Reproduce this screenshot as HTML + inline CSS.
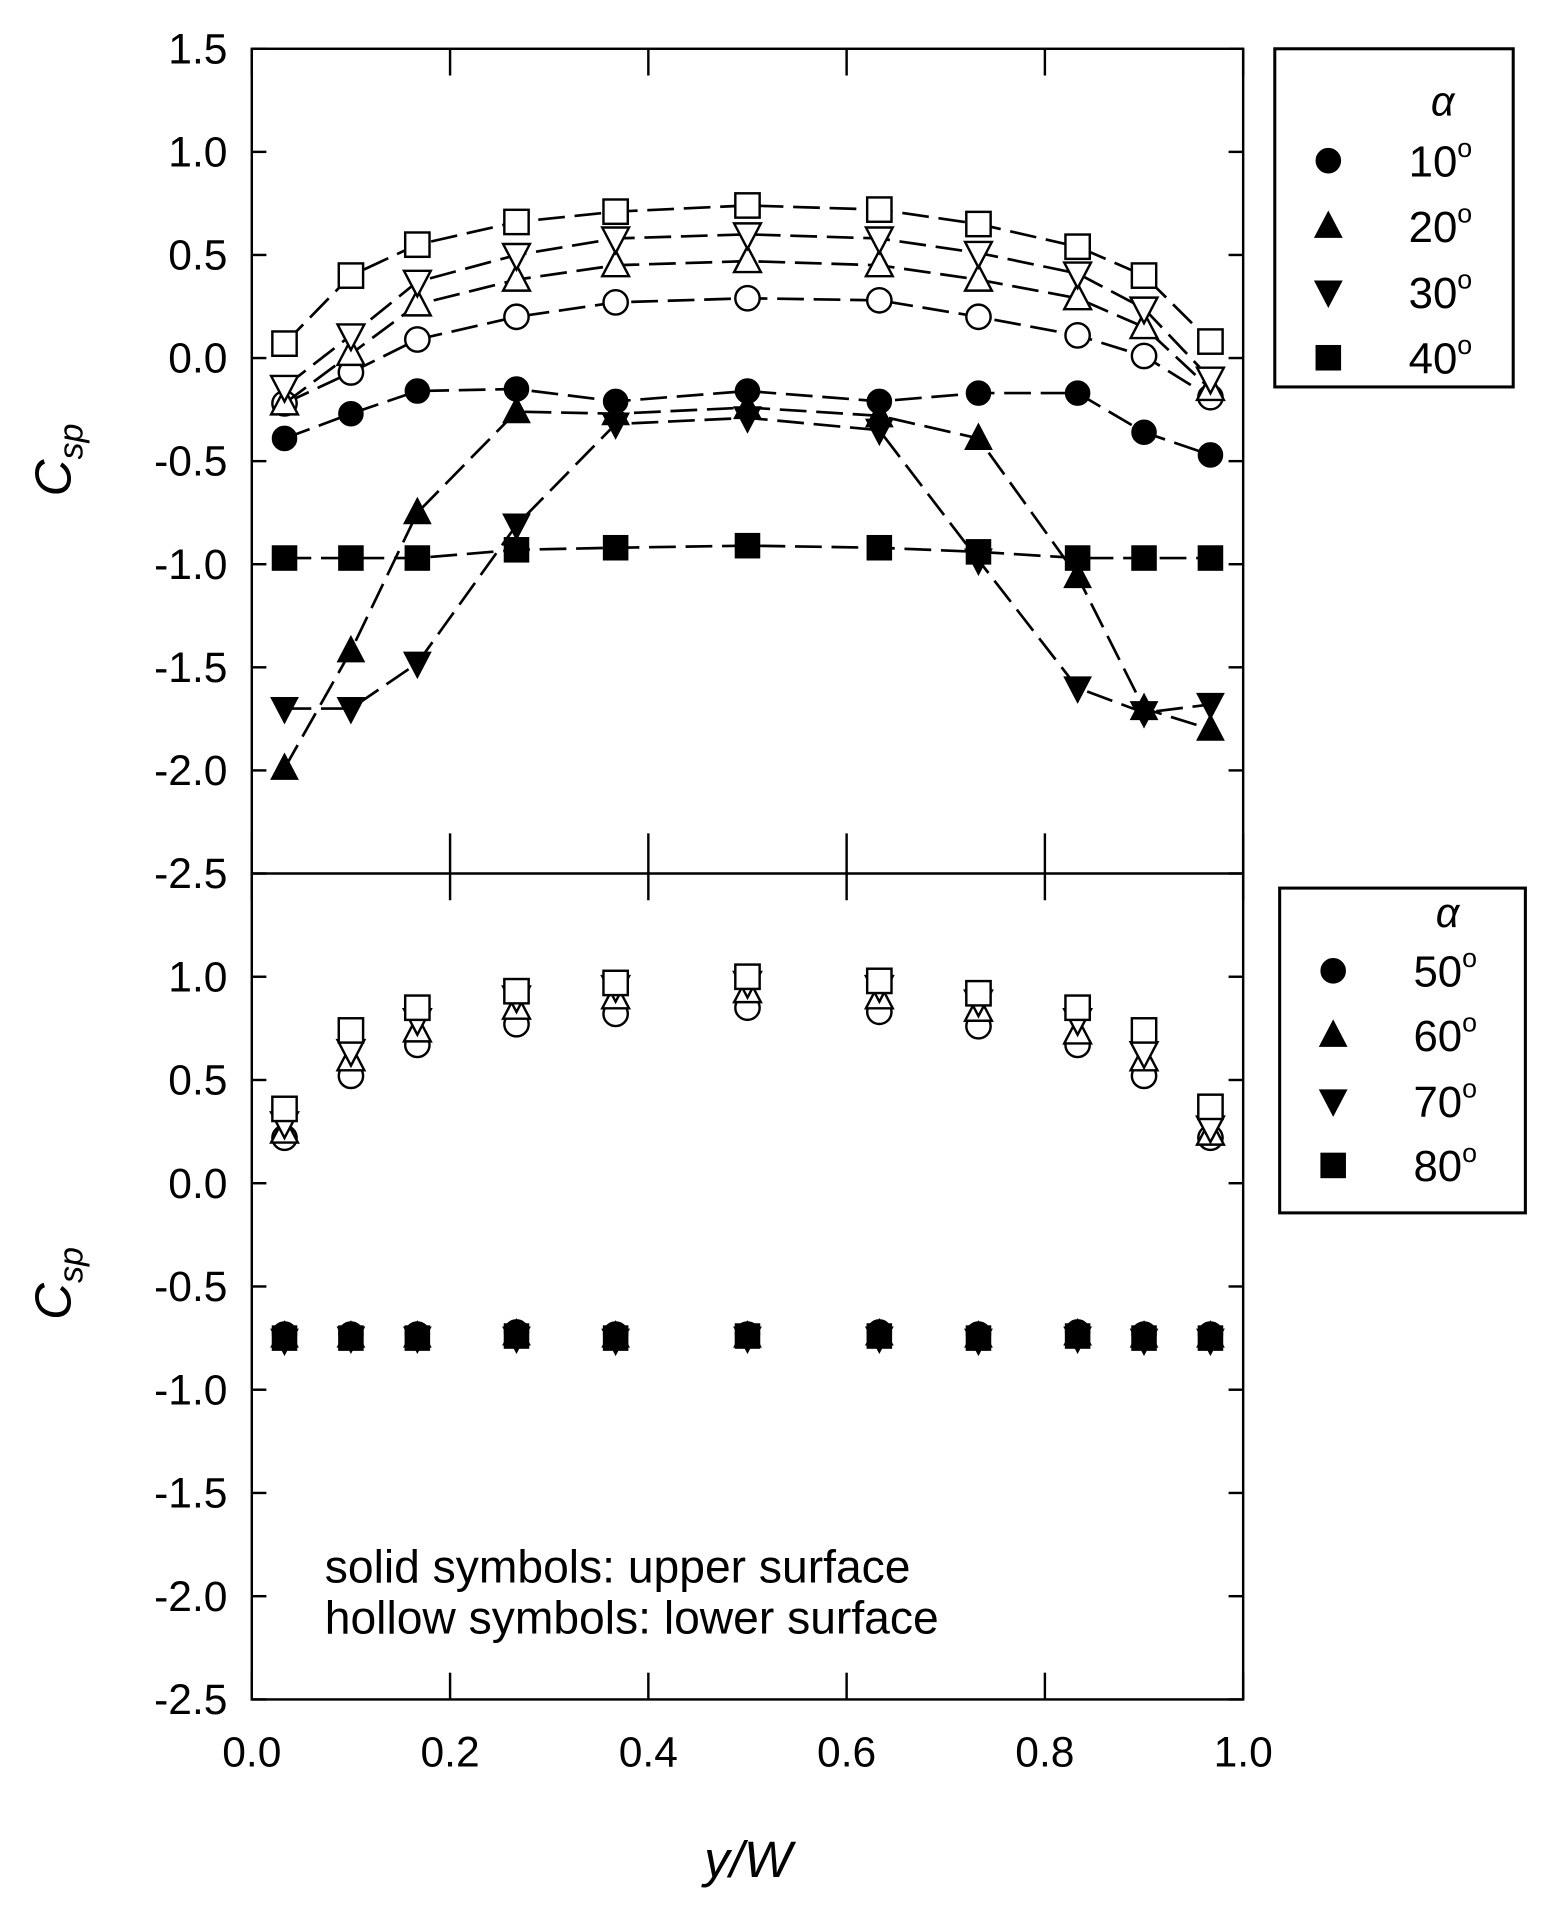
<!DOCTYPE html>
<html><head><meta charset="utf-8"><style>
html,body{margin:0;padding:0;background:#fff}
svg{display:block}
text{font-family:"Liberation Sans",sans-serif;fill:#000}
</style></head><body>
<svg id="chart" width="1557" height="1910" viewBox="0 0 1280 1570" xmlns="http://www.w3.org/2000/svg">
<g id="root"></g>
</svg>
<script>
const xCats=[0.033,0.1,0.167,0.267,0.367,0.5,0.633,0.733,0.833,0.9,0.967];
const yTicks=[1.5,1.0,0.5,0.0,-0.5,-1.0,-1.5,-2.0,-2.5];
const xTicks=[0.0,0.2,0.4,0.6,0.8,1.0];
const topLabels=["10","20","30","40"];
const botLabels=["50","60","70","80"];
const t10u=[-0.39,-0.27,-0.16,-0.15,-0.21,-0.16,-0.21,-0.17,-0.17,-0.36,-0.47];
const t20u=[-1.99,-1.42,-0.75,-0.26,-0.27,-0.24,-0.28,-0.39,-1.06,-1.70,-1.80];
const t30u=[-1.70,-1.70,-1.48,-0.81,-0.32,-0.29,-0.35,-0.98,-1.60,-1.72,-1.68];
const t40u=[-0.97,-0.97,-0.97,-0.93,-0.92,-0.91,-0.92,-0.94,-0.97,-0.97,-0.97];
const t10l=[-0.22,-0.07,0.09,0.20,0.27,0.29,0.28,0.20,0.11,0.01,-0.19];
const t20l=[-0.22,0.02,0.26,0.38,0.45,0.47,0.45,0.38,0.29,0.15,-0.15];
const t30l=[-0.14,0.11,0.37,0.50,0.58,0.60,0.58,0.51,0.41,0.24,-0.10];
const t40l=[0.07,0.40,0.55,0.66,0.71,0.74,0.72,0.65,0.54,0.40,0.08];
const b50l=[0.22,0.52,0.67,0.77,0.82,0.85,0.83,0.76,0.67,0.52,0.22];
const b60l=[0.25,0.60,0.74,0.85,0.90,0.93,0.90,0.84,0.73,0.60,0.24];
const b70l=[0.29,0.64,0.79,0.90,0.95,0.97,0.95,0.88,0.79,0.63,0.27];
const b80l=[0.36,0.74,0.85,0.93,0.97,1.00,0.98,0.92,0.85,0.74,0.37];
const b50u=[-0.73,-0.73,-0.73,-0.72,-0.73,-0.73,-0.72,-0.73,-0.72,-0.73,-0.73];
const b60u=[-0.74,-0.74,-0.74,-0.73,-0.74,-0.74,-0.73,-0.74,-0.73,-0.74,-0.74];
const b70u=[-0.76,-0.75,-0.75,-0.75,-0.76,-0.75,-0.75,-0.76,-0.75,-0.76,-0.76];
const b80u=[-0.75,-0.75,-0.75,-0.74,-0.75,-0.74,-0.74,-0.75,-0.74,-0.75,-0.75];

const NS="http://www.w3.org/2000/svg";
const root=document.getElementById('root');
const X0=207,X1=1022;
function xs(v){return X0+(v)*(X1-X0);}
function ysTop(v){return 40+(1.5-v)*(718-40)/4;}
function ysBot(v){return 718+(1.5-v)*(1397-718)/4;}
function mk(tag,attrs,parent){const e=document.createElementNS(NS,tag);for(const k in attrs)e.setAttribute(k,attrs[k]);(parent||root).appendChild(e);return e;}

let f=mk('rect',{x:X0,y:40,width:X1-X0,height:1397-40,fill:'none',stroke:'#000','stroke-width':2});


let d=mk('line',{x1:X0,y1:718,x2:X1,y2:718,stroke:'#000','stroke-width':2});



function yAxis(ys,name,skipTop){
  const g=mk('g',{});
  
  
  yTicks.forEach((t,i)=>{
    if(skipTop&&i===0)return;
    const y=ys(t);
    mk('line',{x1:X0,y1:y,x2:X0+12,y2:y,stroke:'#000','stroke-width':2},g);
    mk('line',{x1:X1,y1:y,x2:X1-12,y2:y,stroke:'#000','stroke-width':2},g);
    const tx=mk('text',{x:187,y:y+12,'text-anchor':'end','font-size':35},g);
    tx.textContent=t.toFixed(1);
  });
}
yAxis(ysTop,'top-y-axis',false);
yAxis(ysBot,'bottom-y-axis',true);

const xg=mk('g',{});


xTicks.forEach(t=>{
  const x=xs(t);
  mk('line',{x1:x,y1:1397,x2:x,y2:1375,stroke:'#000','stroke-width':2},xg);
  mk('line',{x1:x,y1:718,x2:x,y2:685,stroke:'#000','stroke-width':2},xg);
  mk('line',{x1:x,y1:718,x2:x,y2:740,stroke:'#000','stroke-width':2},xg);
  mk('line',{x1:x,y1:40,x2:x,y2:62,stroke:'#000','stroke-width':2},xg);
  const tx=mk('text',{x:x,y:1452,'text-anchor':'middle','font-size':35},xg);
  tx.textContent=t.toFixed(1);
});

function ytitle(cy,name){
  const t=mk('text',{transform:`translate(58,${cy}) rotate(-90)`,'text-anchor':'middle','font-size':42,'font-style':'italic'});
  
  
  t.innerHTML='C<tspan font-size="28" dy="10">sp</tspan>';
}
ytitle(378,'top-y-axis-title');
ytitle(1055,'bottom-y-axis-title');
let xt=mk('text',{x:615,y:1543,'text-anchor':'middle','font-size':42,'font-style':'italic'});


xt.textContent='y/W';

function marker(g,shape,x,y,filled,s){
  s=s||10;
  const st=filled?{fill:'#000',stroke:'#000','stroke-width':1}:{fill:'#fff',stroke:'#000','stroke-width':2};
  if(shape==='c')mk('circle',Object.assign({cx:x,cy:y,r:s},st),g);
  else if(shape==='s')mk('rect',Object.assign({x:x-s,y:y-s,width:2*s,height:2*s},st),g);
  else if(shape==='t')mk('polygon',Object.assign({points:`${x},${y-s-2} ${x+s+1},${y+s-1} ${x-s-1},${y+s-1}`},st),g);
  else mk('polygon',Object.assign({points:`${x},${y+s+2} ${x+s+1},${y-s+1} ${x-s-1},${y-s+1}`},st),g);
}
function series(vals,ys,shape,filled,line,name){
  const g=mk('g',{});
  
  
  if(line){
    const pts=vals.map((v,i)=>xs(xCats[i])+','+ys(v)).join(' ');
    mk('polyline',{points:pts,fill:'none',stroke:'#000','stroke-width':2.2,'stroke-dasharray':'22,8'},g);
  }
  vals.forEach((v,i)=>marker(g,shape,xs(xCats[i]),ys(v),filled));
}
series(t40u,ysTop,'s',true,true,'series-40-upper');
series(t20u,ysTop,'t',true,true,'series-20-upper');
series(t30u,ysTop,'v',true,true,'series-30-upper');
series(t10u,ysTop,'c',true,true,'series-10-upper');
series(t10l,ysTop,'c',false,true,'series-10-lower');
series(t20l,ysTop,'t',false,true,'series-20-lower');
series(t30l,ysTop,'v',false,true,'series-30-lower');
series(t40l,ysTop,'s',false,true,'series-40-lower');
series(b50l,ysBot,'c',false,false,'series-50-lower');
series(b60l,ysBot,'t',false,false,'series-60-lower');
series(b70l,ysBot,'v',false,false,'series-70-lower');
series(b80l,ysBot,'s',false,false,'series-80-lower');
series(b80u,ysBot,'s',true,false,'series-80-upper');
series(b60u,ysBot,'t',true,false,'series-60-upper');
series(b70u,ysBot,'v',true,false,'series-70-upper');
series(b50u,ysBot,'c',true,false,'series-50-upper');

function legend(x,y,w,h,labels,alphaY,rows,name){
  const g=mk('g',{});
  
  
  mk('rect',{x:x,y:y,width:w,height:h,fill:'#fff',stroke:'#000','stroke-width':2.5},g);
  const a=mk('text',{x:x+138,y:alphaY,'text-anchor':'middle','font-size':34,'font-style':'italic','font-family':'Liberation Serif,serif'},g);
  a.textContent='α';
  const shapes=['c','t','v','s'];
  labels.forEach((l,i)=>{
    const ry=rows[i];
    marker(g,shapes[i],x+44,ry,true,10);
    const t=mk('text',{x:x+110,y:ry+13,'font-size':36},g);
    t.innerHTML=l+'<tspan font-size="22" dy="-16">o</tspan>';
  });
}
legend(1048,40,196,278,topLabels,95,[132,186,240,294],'top-legend');
legend(1052,730,202,267,botLabels,762,[798,851,905,958],'bottom-legend');

const n1=mk('text',{x:267,y:1301,'font-size':38});


n1.textContent='solid symbols: upper surface';
const n2=mk('text',{x:267,y:1343,'font-size':38});


n2.textContent='hollow symbols: lower surface';
</script>
</body></html>
